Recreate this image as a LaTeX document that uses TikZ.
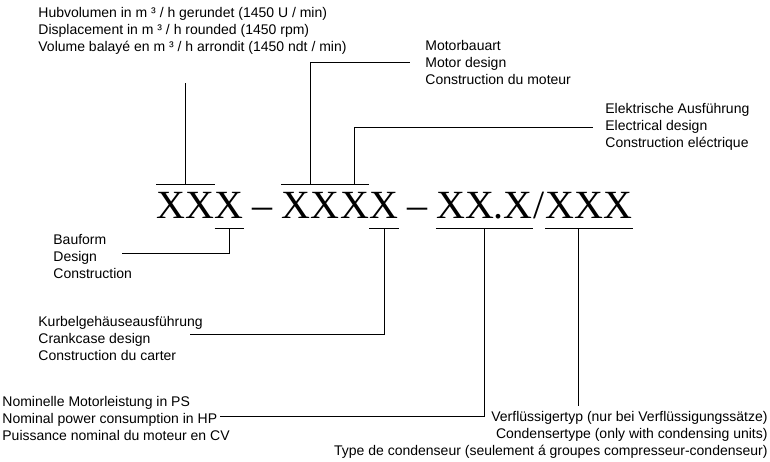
\documentclass[tikz,border=0pt]{standalone}
\usepackage{fontspec}
\setmainfont{Liberation Sans}
\newfontfamily\codefont{Liberation Serif}
\usetikzlibrary{positioning}
\begin{document}
\begin{tikzpicture}[x=1pt,y=-1pt,line width=0.8pt,
  code/.style={font=\codefont\fontsize{40}{40}\selectfont,inner sep=0pt,text height=33pt,text depth=10pt},
  txt/.style={font=\fontsize{14}{17}\selectfont,inner sep=0pt,anchor=west,align=left}]
\useasboundingbox (0,0) rectangle (770,461);
% type code
\node[code,anchor=west] (hv) at (156,206.5) {XX};
\node[code,right=0pt of hv] (bf) {X};
\node[code,inner xsep=8pt,right=0pt of bf] (m1) {\textendash};
\node[code,right=0pt of m1] (mt) {XX};
\node[code,right=0pt of mt] (el) {X};
\node[code,right=0pt of el] (kg) {X};
\node[code,inner xsep=8pt,right=0pt of kg] (m2) {\textendash};
\node[code,right=0pt of m2] (ps) {XX.X};
\node[code,right=0pt of ps] (sl) {/};
\node[code,right=0pt of sl] (vf) {XXX};
\foreach \n in {hv,mt,el} \draw (\n.north west) -- (\n.north east);
\foreach \n in {bf,kg,ps,vf} \draw (\n.south west) -- (\n.south east);
% labels
\node[txt] (hvtxt) at (38,31) {Hubvolumen in m ³ / h gerundet (1450 U / min)\\Displacement in m ³ / h rounded (1450 rpm)\\Volume balayé en m ³ / h arrondit (1450 ndt / min)};
\node[txt,inner xsep=15pt] (mttxt) at (410,62) {Motorbauart\\Motor design\\Construction du moteur};
\node[txt,inner xsep=12pt] (eltxt) at (593,127) {Elektrische Ausführung\\Electrical design\\Construction eléctrique};
\node[txt] (bftxt) at (53,256.5) {Bauform\\Design\\Construction};
\node[txt] (kgtxt) at (38,338) {Kurbelgehäuseausführung\\Crankcase design\\Construction du carter};
\node[txt] (pstxt) at (2,418) {Nominelle Motorleistung in PS\\Nominal power consumption in HP\\Puissance nominal du moteur en CV};
\node[txt,anchor=north east,align=right,inner ysep=5pt] (vftxt) at (768,406) {Verflüssigertyp (nur bei Verflüssigungssätze)\\Condensertype (only with condensing units)\\Type de condenseur (seulement á groupes compresseur-condenseur)};
\coordinate (hvend) at (hv.north |- 0,83);
\coordinate (bfend) at (122,253);
\coordinate (kgend) at (190,334);
\coordinate (psend) at (220,416);
% connectors
\draw (hv.north) -- (hvend);
\draw (mt.north) |- (mttxt.west);
\draw (el.north) |- (eltxt.west);
\draw (bf.south) |- (bfend);
\draw (kg.south) |- (kgend);
\draw (ps.south) |- (psend);
\draw ([xshift=-11pt]vf.south) -- ([xshift=-11pt]vf.south |- vftxt.north);
\end{tikzpicture}
\end{document}
